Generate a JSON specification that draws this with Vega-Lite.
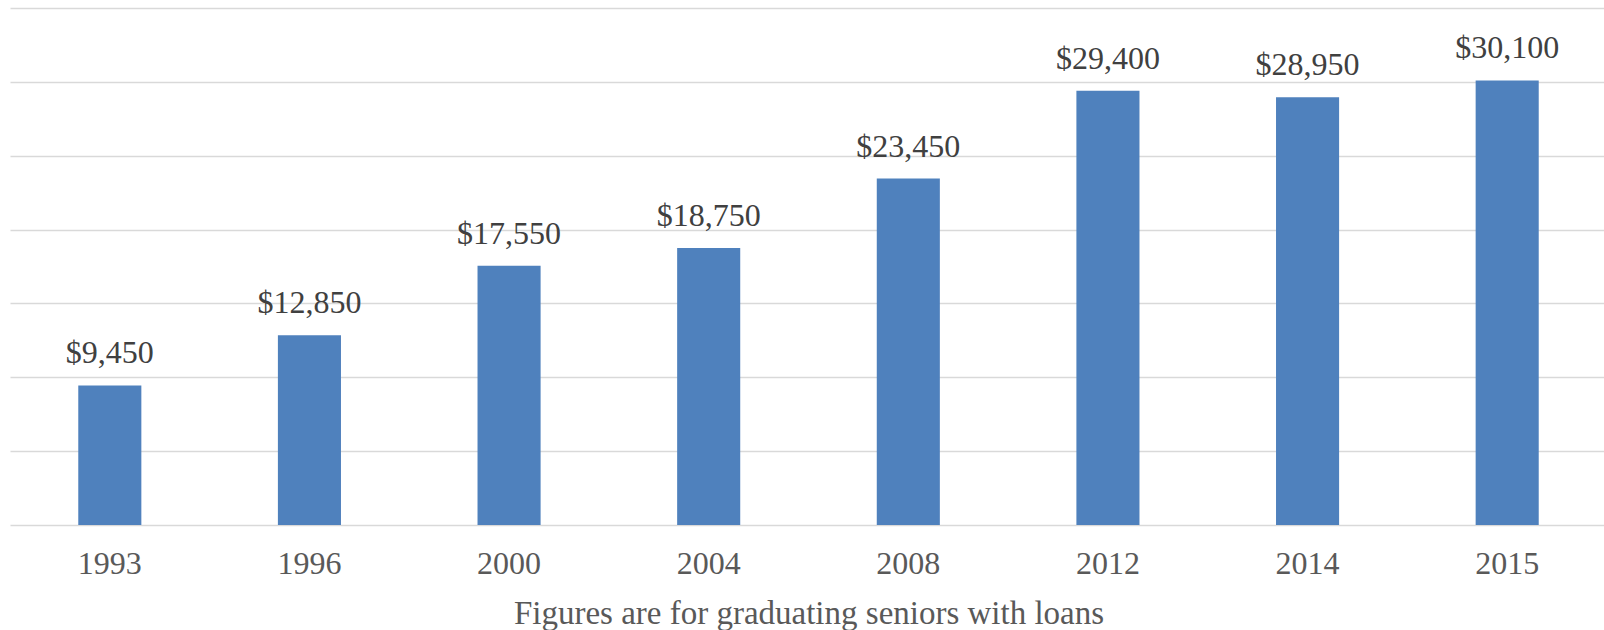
{
  "$schema": "https://vega.github.io/schema/vega-lite/v6.json",
  "autosize": {"type": "none"},
  "padding": {"left": 10, "top": 8, "right": 0, "bottom": 105},
  "width": 1597,
  "height": 517,
  "background": "white",
  "data": {"values": [
    {"year": "1993", "debt": 9450},
    {"year": "1996", "debt": 12850},
    {"year": "2000", "debt": 17550},
    {"year": "2004", "debt": 18750},
    {"year": "2008", "debt": 23450},
    {"year": "2012", "debt": 29400},
    {"year": "2014", "debt": 28950},
    {"year": "2015", "debt": 30100}
  ]},
  "config": {
    "view": {"stroke": null},
    "font": "Liberation Serif"
  },
  "encoding": {
    "x": {
      "field": "year", "type": "nominal", "sort": null,
      "scale": {"paddingInner": 0.684, "paddingOuter": 0.342},
      "axis": {
        "title": "Figures are for graduating seniors with loans",
        "labelAngle": 0, "labelFontSize": 32, "labelColor": "#595959", "labelFont": "Liberation Serif",
        "labelPadding": 23, "ticks": false, "domain": false,
        "titleFontSize": 33, "titleFontWeight": "normal", "titleColor": "#595959", "titleFont": "Liberation Serif",
        "titlePadding": 18
      }
    },
    "y": {
      "field": "debt", "type": "quantitative",
      "scale": {"domain": [0, 35000], "nice": false},
      "axis": {
        "title": null, "labels": false, "ticks": false, "domain": false,
        "values": [0, 5000, 10000, 15000, 20000, 25000, 30000, 35000],
        "gridColor": "#d9d9d9", "gridWidth": 1.5
      }
    }
  },
  "layer": [
    {"mark": {"type": "bar", "color": "#4F81BD"}},
    {
      "mark": {"type": "text", "dy": -22, "baseline": "alphabetic", "fontSize": 32, "color": "#404040", "font": "Liberation Serif"},
      "encoding": {"text": {"field": "debt", "type": "quantitative", "format": "$,"}}
    }
  ]
}
